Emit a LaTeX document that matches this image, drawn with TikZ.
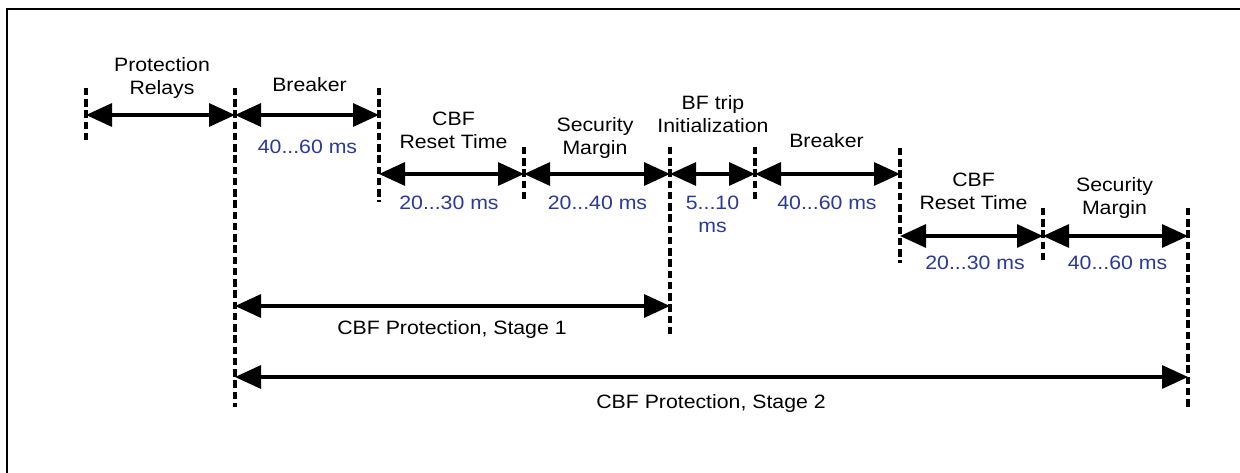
\documentclass[tikz,border=0pt]{standalone}
\usepackage{fontspec}
\setmainfont[FakeStretch=1.1]{Liberation Sans}
\usetikzlibrary{arrows.meta}
\definecolor{timeblue}{RGB}{43,57,153}

\begin{document}
\begin{tikzpicture}
    \useasboundingbox (0,0) rectangle (24.8,9.44);
    \draw[line width=0.04cm] (0.14,-0.2) -- (0.14,9.26) -- (25.2,9.26);
    \begin{scope}
        \tikzstyle{every path}=[line width=0.07cm, dash pattern=on 0.15cm off 0.075cm]
        \draw (1.72,7.68) -- (1.72,6.6);
        \draw (4.7,7.68) -- (4.7,1.3);
        \draw (7.58,7.68) -- (7.58,5.4);
        \draw (10.48,6.5) -- (10.48,5.4);
        \draw (13.4,6.5) -- (13.4,2.74);
        \draw (15.1,6.5) -- (15.1,5.4);
        \draw (18,6.48) -- (18,4.18);
        \draw (20.86,5.28) -- (20.86,4.2);
        \draw (23.76,5.28) -- (23.76,1.3);
    \end{scope}
    \begin{scope}
        \coordinate (a0) at (1.72,7.14);
        \coordinate (a1) at (4.7,7.14);
        \coordinate (a2) at (7.58,7.14);
        \coordinate (b0) at (7.58,5.96);
        \coordinate (b1) at (10.48,5.96);
        \coordinate (b2) at (13.4,5.96);
        \coordinate (b3) at (15.1,5.96);
        \coordinate (b4) at (18,5.96);
        \coordinate (c0) at (18,4.72);
        \coordinate (c1) at (20.86,4.72);
        \coordinate (c2) at (23.76,4.72);
        \coordinate (s0) at (4.7,3.32);
        \coordinate (s1) at (13.4,3.32);
        \coordinate (s2) at (4.7,1.9);
        \coordinate (s3) at (23.76,1.9);
    \end{scope}
    \begin{scope}
        \tikzstyle{every edge}=[draw, line width=0.065cm, {Triangle[length=0.52cm,width=0.46cm]}-{Triangle[length=0.52cm,width=0.46cm]}]
        \path
        (a0) edge (a1)
        (a1) edge (a2)
        (b0) edge (b1)
        (b1) edge (b2)
        (b2) edge (b3)
        (b3) edge (b4)
        (c0) edge (c1)
        (c1) edge (c2)
        (s0) edge (s1)
        (s2) edge (s3);
    \end{scope}
    \begin{scope}
        \tikzstyle{every node}=[anchor=base, align=center, inner sep=0pt, text=black, font=\fontsize{11}{13.1}\selectfont]
        \node (relays) at (3.24,7.54) {Protection\\Relays};
        \node (brk1) at (6.19,7.6) {Breaker};
        \node (rst1) at (9.07,6.46) {CBF\\Reset Time};
        \node (sec1) at (11.9,6.34) {Security\\Margin};
        \node (bfi) at (14.26,6.78) {BF trip\\Initialization};
        \node (brk2) at (16.53,6.48) {Breaker};
        \node (rst2) at (19.47,5.24) {CBF\\Reset Time};
        \node (sec2) at (22.29,5.14) {Security\\Margin};
        \node (stage1) at (9.04,2.74) {CBF Protection, Stage 1};
        \node (stage2) at (14.22,1.26) {CBF Protection, Stage 2};
    \end{scope}
    \begin{scope}
        \tikzstyle{every node}=[anchor=base, align=center, inner sep=0pt, text=timeblue, font=\fontsize{11}{13.1}\selectfont]
        \node (tbrk1) at (6.15,6.36) {40...60 ms};
        \node (trst1) at (8.98,5.24) {20...30 ms};
        \node (tsec1) at (11.95,5.24) {20...40 ms};
        \node (tbfi) at (14.25,4.78) {5...10\\ms};
        \node (tbrk2) at (16.54,5.24) {40...60 ms};
        \node (trst2) at (19.5,4.04) {20...30 ms};
        \node (tsec2) at (22.35,4.04) {40...60 ms};
    \end{scope}
\end{tikzpicture}
\end{document}
